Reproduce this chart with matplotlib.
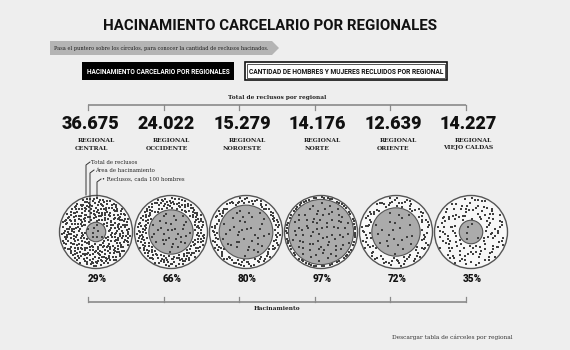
import numpy as np
import matplotlib.pyplot as plt
from matplotlib.patches import Circle, Polygon, Rectangle

# datos por regional
regionales = ['REGIONAL\nCENTRAL', 'REGIONAL\nOCCIDENTE', 'REGIONAL\nNOROESTE',
              'REGIONAL\nNORTE', 'REGIONAL\nORIENTE', 'REGIONAL\nVIEJO CALDAS']
totales = [36675, 24022, 15279, 14176, 12639, 14227]
totales_txt = ['36.675', '24.022', '15.279', '14.176', '12.639', '14.227']
hacinamiento = [29, 66, 80, 97, 72, 35]

BG = '#eeeeee'
SANS = ['Roboto', 'DejaVu Sans']
SERIF = ['DejaVu Serif']

fig = plt.figure(figsize=(5.7, 3.5), dpi=100, facecolor=BG)
ax = fig.add_axes([0, 0, 1, 1])
ax.set_xlim(0, 570)
ax.set_ylim(350, 0)
ax.axis('off')
ax.set_facecolor(BG)


def halton(k, base):
    # secuencia de van der Corput para repartir los puntos
    out = np.zeros(len(k))
    f = 1.0
    k = k.copy()
    while np.any(k > 0):
        f /= base
        out += f * (k % base)
        k //= base
    return out


# titulo
ax.text(270, 26, 'HACINAMIENTO CARCELARIO POR REGIONALES', ha='center', va='center',
        fontsize=10.8, fontweight='bold', family=SANS, color='#111111')

# banda gris con flecha
ax.add_patch(Polygon([(50, 41), (272, 41), (279, 48), (272, 55), (50, 55)],
                     closed=True, facecolor='#b4b4b4', edgecolor='none'))
ax.text(54, 48, 'Pasa el puntero sobre los círculos, para conocer la cantidad de reclusos hacinados.',
        ha='left', va='center', fontsize=3.6, family=SERIF, color='#222222')

# botones
ax.add_patch(Rectangle((82, 62), 152, 18, facecolor='#000000', edgecolor='none'))
ax.text(158.5, 71.5, 'HACINAMIENTO CARCELARIO POR REGIONALES', ha='center', va='center',
        fontsize=4.7, fontweight='bold', family=SANS, color='white')
ax.add_patch(Rectangle((245, 62), 202, 18, facecolor='white', edgecolor='#111111', linewidth=1.2))
ax.add_patch(Rectangle((247, 64), 198, 14, facecolor='none', edgecolor='#111111', linewidth=0.5))
ax.text(346, 71.5, 'CANTIDAD DE HOMBRES Y MUJERES RECLUIDOS POR REGIONAL', ha='center', va='center',
        fontsize=4.8, fontweight='bold', family=SANS, color='#111111')

n = len(regionales)
ticks = [88 + 75.5 * i for i in range(n)]
centros = [96 + 75 * i for i in range(n)]

# corchete superior
ax.text(277, 97, 'Total de reclusos por regional', ha='center', va='center',
        fontsize=4.2, fontweight='bold', family=SERIF, color='#222222')
ax.plot([ticks[0], ticks[-1]], [105, 105], color='#8a8a8a', lw=1.2, solid_capstyle='butt')
for t in ticks:
    ax.plot([t, t], [105, 110], color='#8a8a8a', lw=0.9)

for i in range(n):
    c = ticks[i] + 3
    ax.text(c, 124, totales_txt[i], ha='center', va='center', fontsize=13,
            fontweight='black', family=SANS, color='#111111')
    l1, l2 = regionales[i].split('\n')
    ax.text(c + 5, 140, l1, ha='center', va='center', fontsize=4.3,
            fontweight='bold', family=SERIF, color='#222222')
    ax.text(c, 148, l2, ha='center', va='center', fontsize=4.3,
            fontweight='bold', family=SERIF, color='#222222')

# circulos
R = 36.5
cy = 232
for i in range(n):
    cx = centros[i]
    p = hacinamiento[i] / 100
    r_in = R * p * 0.92
    ax.add_patch(Circle((cx, cy), R, facecolor='#f7f7f7', edgecolor='#555555', lw=1.0))
    ax.add_patch(Circle((cx, cy), r_in, facecolor='#ababab', edgecolor='#555555', lw=0.8))

    # un punto por cada 100 reclusos, menos densos dentro del area gris
    pts = round(totales[i] / 100)
    a_in = r_in ** 2 * 0.3
    a_out = R ** 2 - r_in ** 2
    n_in = int(round(pts * a_in / (a_in + a_out)))
    n_out = pts - n_in
    k = np.arange(1, n_in + 1)
    rr = r_in * 0.92 * np.sqrt(halton(k, 2))
    th = 2 * np.pi * halton(k, 3)
    xs_in, ys_in = cx + rr * np.cos(th), cy + rr * np.sin(th)
    k = np.arange(1, n_out + 1) + 7 * i
    r0, r1 = r_in + 1.5, R - 1.8
    rr = np.sqrt(r0 ** 2 + (r1 ** 2 - r0 ** 2) * halton(k, 2))
    th = 2 * np.pi * halton(k, 3)
    xs_out, ys_out = cx + rr * np.cos(th), cy + rr * np.sin(th)
    ax.scatter(np.r_[xs_in, xs_out], np.r_[ys_in, ys_out], s=0.65, marker='s',
               color='#404040', linewidths=0, zorder=3)

    ax.text(cx + 1, 279, f'{hacinamiento[i]}%', ha='center', va='center', fontsize=7.2,
            fontweight='black', family=SANS, color='#111111')

# leyenda del primer circulo
leyenda = [((86, 195), 162, 'Total de reclusos'),
           ((90, 222), 170, 'Área de hacinamiento'),
           ((97, 197), 179, '• Reclusos, cada 100 hombres')]
for (x0, y0), ytop, txt in leyenda:
    ax.plot([x0, x0, x0 + 4], [y0, ytop + 3, ytop], color='#333333', lw=0.7, zorder=4)
    ax.text(x0 + 5, ytop, txt, ha='left', va='center', fontsize=3.9,
            family=SERIF, color='#222222')

# corchete inferior
ax.plot([ticks[0], ticks[-1]], [302, 302], color='#8a8a8a', lw=1.2, solid_capstyle='butt')
for t in ticks:
    ax.plot([t, t], [297, 302], color='#8a8a8a', lw=0.9)
ax.text(277, 309, 'Hacinamiento', ha='center', va='center', fontsize=4.2,
        fontweight='bold', family=SERIF, color='#222222')

ax.text(513, 337, 'Descargar tabla de cárceles por regional', ha='right', va='center',
        fontsize=4.2, family=SERIF, color='#333333')

fig.savefig('out.png', dpi=100, facecolor=BG)
